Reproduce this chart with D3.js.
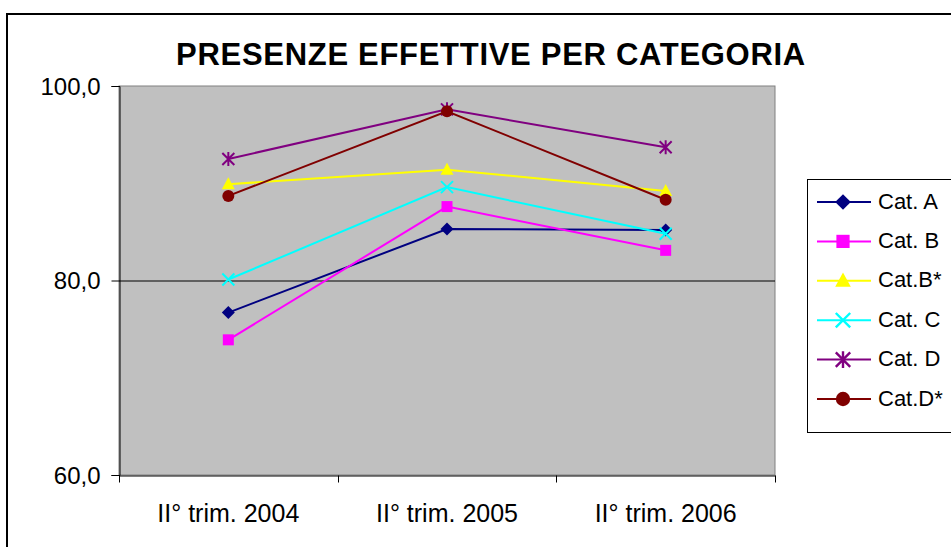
<!DOCTYPE html>
<html>
<head>
<meta charset="utf-8">
<script src="https://cdn.jsdelivr.net/npm/d3@7"></script>
<style>
  body { margin: 0; background: #fff; }
  text { font-family: "Liberation Sans", Arial, sans-serif; fill: #000; }
</style>
</head>
<body>
<div id="main"></div>
<script>
// data
const periods = ["II° trim. 2004", "II° trim. 2005", "II° trim. 2006"];
const seriesNames = ["Cat. A", "Cat. B", "Cat.B*", "Cat. C", "Cat. D", "Cat.D*"];
const catA = [76.7, 85.3, 85.2];
const catB = [73.9, 87.6, 83.1];
const catBs = [89.9, 91.4, 89.2];
const catC = [80.1, 89.6, 84.8];
const catD = [92.5, 97.6, 93.7];
const catDs = [88.7, 97.4, 88.3];
const yTicks = [60, 80, 100];

const seriesColors = ["#000080", "#FF00FF", "#FFFF00", "#00FFFF", "#800080", "#800000"];
const seriesMarkers = ["diamond", "square", "triangle", "cross", "star", "circle"];
const series = [catA, catB, catBs, catC, catD, catDs].map(function (vals, i) {
    return { name: seriesNames[i], values: vals, color: seriesColors[i], marker: seriesMarkers[i] };
});

// dimensions
const svg_width = 951, svg_height = 547;
const plot = { left: 119, top: 86, right: 775, bottom: 475 };

const svg = d3.select("#main").append("svg")
    .attr("width", svg_width)
    .attr("height", svg_height);

// outer chart border
svg.append("rect")
    .attr("x", 7).attr("y", 14)
    .attr("width", 960).attr("height", 560)
    .attr("fill", "#fff")
    .attr("stroke", "#000")
    .attr("stroke-width", 2);

// title
svg.append("text")
    .attr("x", 491).attr("y", 65)
    .attr("text-anchor", "middle")
    .style("font-size", "31px")
    .style("font-weight", "bold")
    .style("letter-spacing", "0.7px")
    .text("PRESENZE EFFETTIVE PER CATEGORIA");

// scales
const xScale = d3.scaleBand().domain(periods).range([plot.left, plot.right]);
const yScale = d3.scaleLinear().domain([60, 100]).range([plot.bottom, plot.top]);
const xc = function (p) { return xScale(p) + xScale.bandwidth() / 2; };

// plot area
svg.append("rect")
    .attr("x", plot.left).attr("y", plot.top)
    .attr("width", plot.right - plot.left)
    .attr("height", plot.bottom - plot.top)
    .attr("fill", "#C0C0C0")
    .attr("stroke", "#808080")
    .attr("stroke-width", 1);

// gridlines
svg.append("g")
    .selectAll("line")
    .data(yTicks.filter(function (t) { return t > 60 && t < 100; }))
    .enter().append("line")
    .attr("x1", plot.left).attr("x2", plot.right)
    .attr("y1", function (d) { return yScale(d) + 0.5; })
    .attr("y2", function (d) { return yScale(d) + 0.5; })
    .attr("stroke", "#000").attr("stroke-width", 1);

// y axis
const yAxis = svg.append("g")
    .attr("transform", "translate(" + (plot.left + 0.5) + ",0)")
    .call(d3.axisLeft(yScale).tickValues(yTicks).tickSize(8).tickPadding(11)
        .tickFormat(function (d) { return d3.format(".1f")(d).replace(".", ","); }));
yAxis.selectAll("text").style("font-size", "24px").attr("dy", "0.35em");
yAxis.selectAll("line, path").attr("stroke", "#000");

// x axis
const xAxis = svg.append("g")
    .attr("transform", "translate(0," + (plot.bottom + 0.5) + ")")
    .call(d3.axisBottom(xScale).tickSize(0).tickPadding(0));
xAxis.selectAll("text").style("font-size", "25px").attr("dy", null).attr("y", 46);
xAxis.select("path").attr("stroke", "#000");
xAxis.selectAll(".tick line").remove();
xAxis.selectAll(".sep")
    .data([0, 1, 2, 3])
    .enter().append("line")
    .attr("class", "sep")
    .attr("x1", function (i) { return Math.round(plot.left + i * xScale.step()) + 0.5; })
    .attr("x2", function (i) { return Math.round(plot.left + i * xScale.step()) + 0.5; })
    .attr("y1", 0).attr("y2", 7)
    .attr("stroke", "#000");

// markers
function drawMarker(g, type, color, k) {
    k = k || 1;
    if (type === "diamond") {
        g.append("path").attr("d", "M0,-6.5L6.5,0L0,6.5L-6.5,0Z").attr("fill", color);
    } else if (type === "square") {
        g.append("rect").attr("x", -5.5).attr("y", -5.5).attr("width", 11).attr("height", 11).attr("fill", color);
    } else if (type === "triangle") {
        g.append("path").attr("d", "M0,-7L6.5,5L-6.5,5Z").attr("fill", color);
    } else if (type === "cross") {
        g.append("path").attr("d", "M-6,-6L6,6M-6,6L6,-6").attr("stroke", color).attr("stroke-width", 2);
    } else if (type === "star") {
        g.append("path").attr("d", "M-6,-6L6,6M-6,6L6,-6M0,-7L0,7").attr("stroke", color).attr("stroke-width", 2);
    } else if (type === "circle") {
        g.append("circle").attr("r", 6).attr("fill", color);
    }
    g.attr("transform", g.attr("transform") + " scale(" + k + ")");
}

const line = d3.line()
    .x(function (d, i) { return xc(periods[i]); })
    .y(function (d) { return yScale(d); });

const seriesG = svg.append("g").selectAll("g")
    .data(series)
    .enter().append("g");

seriesG.append("path")
    .attr("fill", "none")
    .attr("stroke", function (d) { return d.color; })
    .attr("stroke-width", 2)
    .attr("d", function (d) { return line(d.values); });

seriesG.each(function (s) {
    const g = d3.select(this);
    s.values.forEach(function (v, i) {
        const m = g.append("g").attr("transform", "translate(" + xc(periods[i]) + "," + yScale(v) + ")");
        drawMarker(m, s.marker, s.color, 1);
    });
});

// legend
const legend = svg.append("g").attr("transform", "translate(807,179)");
legend.append("rect")
    .attr("x", 0.5).attr("y", 0.5)
    .attr("width", 200).attr("height", 253)
    .attr("fill", "#fff")
    .attr("stroke", "#000").attr("stroke-width", 1);

const items = legend.selectAll(".item")
    .data(series)
    .enter().append("g")
    .attr("class", "item")
    .attr("transform", function (d, i) { return "translate(0," + (23 + i * 39.4) + ")"; });
items.append("line")
    .attr("x1", 10).attr("x2", 64).attr("y1", 0).attr("y2", 0)
    .attr("stroke", function (d) { return d.color; })
    .attr("stroke-width", 2);
items.each(function (s) {
    const m = d3.select(this).append("g").attr("transform", "translate(36,0)");
    drawMarker(m, s.marker, s.color, 1.2);
});
items.append("text")
    .attr("x", 71).attr("y", 0).attr("dy", "0.3em")
    .style("font-size", "22px")
    .text(function (d) { return d.name; });
</script>
</body>
</html>
